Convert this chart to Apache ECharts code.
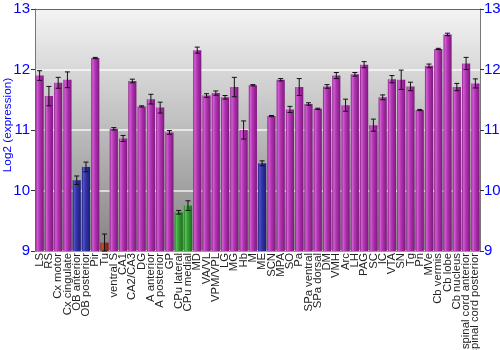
<!DOCTYPE html>
<html>
<head>
<meta charset="utf-8">
<script src="https://cdn.jsdelivr.net/npm/echarts@6/dist/echarts.min.js"></script>
<style>
  html, body { margin: 0; padding: 0; background: #fff; }
  #chart { width: 500px; height: 350px; }
</style>
</head>
<body>
<div id="chart"></div>
<script>
// Brain regions along the x axis
const regions = [
  'LS', 'RS', 'Cx motor', 'Cx cingulate', 'OB anterior', 'OB posterior', 'Pir', 'Tu',
  'ventral S', 'CA1', 'CA2/CA3', 'DG', 'A anterior', 'A posterior', 'GP', 'CPu lateral',
  'CPu medial', 'MD', 'VA/VL', 'VPM/VPL', 'LG', 'MG', 'Hb', 'M', 'ME', 'SCN', 'MPA', 'SO',
  'Pa', 'SPa ventral', 'SPa dorsal', 'DM', 'VMH', 'Arc', 'LH', 'PAG', 'SC', 'IC', 'VTA',
  'SN', 'Tg', 'Pn', 'MVe', 'Cb vermis', 'Cb lobe', 'Cb nucleus', 'spinal cord anterior',
  'spinal cord posterior'
];

// Mean log2 expression per region
const expression = [
  11.90, 11.56, 11.78, 11.83, 10.17, 10.39, 12.19, 9.14,
  11.02, 10.86, 11.81, 11.39, 11.51, 11.37, 10.96, 9.64,
  9.75, 12.32, 11.57, 11.61, 11.54, 11.71, 11.00, 11.74, 10.45, 11.23, 11.83, 11.34,
  11.71, 11.43, 11.35, 11.72, 11.90, 11.41, 11.92, 12.08, 11.08, 11.54, 11.84,
  11.83, 11.72, 11.33, 12.06, 12.34, 12.58, 11.71, 12.10,
  11.77
];

// Standard error for each region
const stdError = [
  0.08, 0.16, 0.09, 0.13, 0.07, 0.08, 0.01, 0.14,
  0.02, 0.05, 0.03, 0.01, 0.08, 0.09, 0.03, 0.03,
  0.08, 0.05, 0.03, 0.035, 0.03, 0.16, 0.15, 0.01, 0.04, 0.01, 0.02, 0.05,
  0.14, 0.02, 0.01, 0.03, 0.05, 0.10, 0.03, 0.05, 0.10, 0.04, 0.06,
  0.16, 0.07, 0.01, 0.03, 0.01, 0.02, 0.06, 0.10,
  0.075
];

// Colour group of each bar: p = purple, b = blue, r = red, g = green
const groups = [
  'p', 'p', 'p', 'p', 'b', 'b', 'p', 'r',
  'p', 'p', 'p', 'p', 'p', 'p', 'p', 'g',
  'g', 'p', 'p', 'p', 'p', 'p', 'p', 'p', 'b', 'p', 'p', 'p',
  'p', 'p', 'p', 'p', 'p', 'p', 'p', 'p', 'p', 'p', 'p',
  'p', 'p', 'p', 'p', 'p', 'p', 'p', 'p',
  'p'
];

const yTicks = [9, 10, 11, 12, 13];

const palette = {
  p: ['#8a1e8a', '#d25ed2', '#b536b5', '#7c187c'],
  b: ['#1e1e80', '#5252c8', '#3434a8', '#1c1c78'],
  r: ['#801c10', '#cc5040', '#b03424', '#7a1a10'],
  g: ['#1c7a1c', '#58c058', '#34a234', '#1a701a']
};

function barFill(key) {
  const c = palette[key];
  return new echarts.graphic.LinearGradient(0, 0, 1, 0, [
    { offset: 0, color: c[0] },
    { offset: 0.2, color: c[1] },
    { offset: 0.45, color: c[2] },
    { offset: 1, color: c[3] }
  ]);
}

const barData = expression.map((v, i) => ({
  value: v,
  itemStyle: { color: barFill(groups[i]) }
}));

const errData = expression.map((v, i) => [i, v - stdError[i], v + stdError[i]]);

const chart = echarts.init(document.getElementById('chart'), null, { renderer: 'canvas' });

const axisLabelStyle = {
  color: '#0000ff',
  fontSize: 15,
  fontFamily: 'Liberation Sans, Arial, sans-serif'
};

chart.setOption({
  animation: false,
  grid: {
    left: 35, right: 20, top: 9, bottom: 99,
    containLabel: false,
    outerBoundsMode: 'none',
    show: true,
    borderWidth: 0,
    backgroundColor: new echarts.graphic.LinearGradient(0, 0, 0, 1, [
      { offset: 0, color: '#f4f4f4' },
      { offset: 1, color: '#848484' }
    ])
  },
  xAxis: {
    type: 'category',
    data: regions,
    axisTick: { show: false },
    axisLine: { show: true, lineStyle: { color: '#9a9a9a', width: 1 } },
    axisLabel: {
      rotate: 90,
      interval: 0,
      color: '#222',
      fontSize: 11.3,
      margin: 2,
      fontFamily: 'Liberation Sans, Arial, sans-serif'
    }
  },
  yAxis: [
    {
      type: 'value', min: 9, max: 13, interval: 1,
      name: 'Log2 (expression)',
      nameLocation: 'middle',
      nameGap: 21,
      nameMoveOverlap: false,
      nameTextStyle: {
        color: '#0000ff', fontSize: 11.8, padding: [0, 0, 0, 10],
        fontFamily: 'Liberation Sans, Arial, sans-serif'
      },
      axisLine: { show: true, lineStyle: { color: '#777', width: 1 } },
      axisTick: { show: true, length: 4, lineStyle: { color: '#333' } },
      axisLabel: Object.assign({ margin: 5, formatter: v => yTicks.includes(v) ? String(v) : '' }, axisLabelStyle),
      splitLine: { show: true, lineStyle: { color: '#ffffff', width: 1.5, opacity: 0.85 } }
    },
    {
      type: 'value', min: 9, max: 13, interval: 1,
      position: 'right',
      axisLine: { show: true, lineStyle: { color: '#777', width: 1 } },
      axisTick: { show: true, length: 4, lineStyle: { color: '#333' } },
      axisLabel: Object.assign({ margin: 4, formatter: v => yTicks.includes(v) ? String(v) : '' }, axisLabelStyle),
      splitLine: { show: false }
    }
  ],
  graphic: [
    // frame line along the top of the plot
    { type: 'line', shape: { x1: 35, y1: 9.5, x2: 480, y2: 9.5 }, style: { stroke: '#666', lineWidth: 1 }, z: 10 }
  ],
  series: [
    {
      type: 'bar',
      data: barData,
      barCategoryGap: '12%',
      z: 2
    },
    {
      type: 'custom',
      data: errData,
      z: 5,
      renderItem: function (params, api) {
        const x = api.value(0);
        const lo = api.coord([x, api.value(1)]);
        const hi = api.coord([x, api.value(2)]);
        const cap = 2.5;
        const st = { stroke: '#111', lineWidth: 1 };
        return {
          type: 'group',
          children: [
            { type: 'line', shape: { x1: lo[0], y1: lo[1], x2: hi[0], y2: hi[1] }, style: st },
            { type: 'line', shape: { x1: lo[0] - cap, y1: lo[1], x2: lo[0] + cap, y2: lo[1] }, style: st },
            { type: 'line', shape: { x1: hi[0] - cap, y1: hi[1], x2: hi[0] + cap, y2: hi[1] }, style: st }
          ]
        };
      }
    }
  ]
});
</script>
</body>
</html>
